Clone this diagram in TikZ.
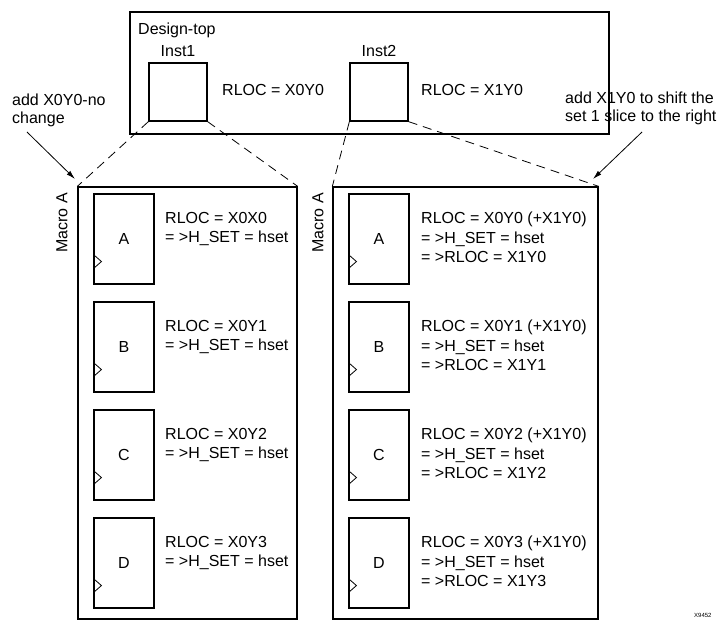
\documentclass[tikz,border=0pt]{standalone}
\usepackage{fontspec}
\setmainfont{Liberation Sans}
\usetikzlibrary{positioning,arrows.meta}

\begin{document}
\begin{tikzpicture}[x=1pt,y=-1pt,
  box/.style={draw,line width=1.3pt,inner sep=0pt},
  ff/.style={draw,line width=1.1pt,minimum width=60pt,minimum height=90pt,inner sep=0pt,
    font=\fontsize{16}{19.5}\selectfont},
  txt/.style={inner sep=0pt,align=left,font=\fontsize{16}{19.5}\selectfont},
  note/.style={inner sep=0pt,align=left,font=\fontsize{16}{18}\selectfont},
  link/.style={line width=0.8pt,dash pattern=on 9pt off 6pt},
  arr/.style={-{Latex[length=9pt,width=5pt]},line width=0.8pt}]
\useasboundingbox (0,0) rectangle (719,620);
% design top with the two instances
\node[box,minimum width=479pt,minimum height=122pt] (top) at (369.5,73) {};
\node[txt,anchor=north west] (toplab) at (138,23) {Design-top};
\node[box,minimum size=58pt] (inst1) at (178,92) {};
\node[txt,above=5pt of inst1] (inst1lab) {Inst1};
\node[txt,anchor=west] (rloc1) at (222,90) {RLOC = X0Y0};
\node[box,minimum size=58pt] (inst2) at (379,92) {};
\node[txt,above=5pt of inst2] (inst2lab) {Inst2};
\node[txt,anchor=west] (rloc2) at (421,90) {RLOC = X1Y0};
% the two macros
\node[box,minimum width=219pt,minimum height=432pt] (macroL) at (187.5,403) {};
\node[box,minimum width=265pt,minimum height=432pt] (macroR) at (465.5,403) {};
\node[txt,rotate=90] (macroLlab) at (62,223) {Macro A};
\node[txt,rotate=90] (macroRlab) at (318,223) {Macro A};
\foreach \n/\k/\r in {A/0/X0X0,B/1/X0Y1,C/2/X0Y2,D/3/X0Y3}{
  \node[ff] (L\n) at (124,{239+108*\k}) {\n};
  \node[ff] (R\n) at (379,{239+108*\k}) {\n};
  \draw[line width=0.8pt] ([yshift=16pt]L\n.south west) -- ++(8,-7) -- ++(-8,-7);
  \draw[line width=0.8pt] ([yshift=16pt]R\n.south west) -- ++(8,-7) -- ++(-8,-7);
  \node[txt,anchor=north west] (Lt\n) at (165,{212+108*\k}) {RLOC = \r\\= >H\_SET = hset};
  \node[txt,anchor=north west] (Rt\n) at (421,{212+108*\k})
    {RLOC = X0Y\k{} (+X1Y0)\\= >H\_SET = hset\\= >RLOC = X1Y\k};
}
% links from instances to macros
\draw[link] (inst1.south west) -- (macroL.north west);
\draw[link] (inst1.south east) -- (macroL.north east);
\draw[link] (inst2.south west) -- (macroR.north west);
\draw[link] (inst2.south east) -- (macroR.north east);
% notes
\node[note,anchor=north west] (noteL) at (12,94) {add X0Y0-no\\change};
\node[note,anchor=north west] (noteR) at (565,92) {add X1Y0 to shift the\\set 1 slice to the right};
\coordinate (tailL) at (27,132);
\coordinate (headL) at (75,179);
\coordinate (tailR) at (642,132);
\coordinate (headR) at (593,179);
\draw[arr] (tailL) -- (headL);
\draw[arr] (tailR) -- (headR);
\node[inner sep=0pt,font=\fontsize{6}{7}\selectfont,anchor=north west] (fig) at (694,613) {X9452};
\end{tikzpicture}
\end{document}
